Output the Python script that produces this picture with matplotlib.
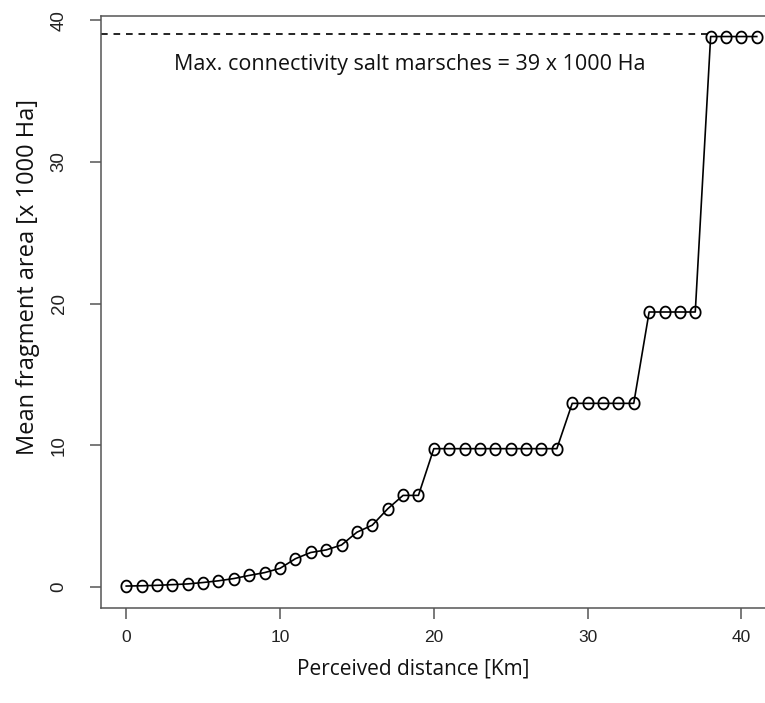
import matplotlib
matplotlib.use("Agg")
import matplotlib.pyplot as plt
import numpy as np
from matplotlib.path import Path

# perceived distance (km) and mean fragment area (x 1000 Ha)
distance = list(range(0, 42))
mean_area = [0.05, 0.07, 0.1, 0.15, 0.2, 0.3, 0.42, 0.58, 0.8, 1.0, 1.3,
             1.98, 2.42, 2.6, 2.95, 3.85, 4.35, 5.5, 6.45, 6.45,
             9.75, 9.75, 9.75, 9.75, 9.75, 9.75, 9.75, 9.75, 9.75,
             12.95, 12.95, 12.95, 12.95, 12.95,
             19.4, 19.4, 19.4, 19.4,
             38.85, 38.85, 38.85, 38.85]
max_conn = 39
max_conn_end = 38
x_ticks = [0, 10, 20, 30, 40]
y_ticks = [0, 10, 20, 30, 40]
note = "Max. connectivity salt marsches = 39 x 1000 Ha"
x_title = "Perceived distance [Km]"
y_title = "Mean fragment area [x 1000 Ha]"

label_font = ["Open Sans", "DejaVu Sans"]
tick_font = ["Liberation Sans", "DejaVu Sans"]

# the source picture is a bit stretched vertically -> slightly oval circles
t = np.linspace(0, 2 * np.pi, 60)
oval = Path(np.column_stack([np.cos(t) / 1.15, np.sin(t)]), closed=True)

fig = plt.figure(figsize=(7.65, 7.03), dpi=100)
ax = fig.add_axes([101 / 765, 1 - 608 / 703, (782 - 101) / 765, (608 - 16) / 703])

xmin, xmax = -1.64, 42.64
ax.set_xlim(xmin, xmax)
ax.set_ylim(-1.5, 40.3)

ax.plot(distance, mean_area, color="black", lw=1.2, marker=oval, ms=8.5,
        mfc="none", mec="black", mew=1.3, zorder=3)
ax.plot([xmin, max_conn_end], [max_conn, max_conn], color="black", lw=1.2,
        dashes=(4, 3.5), zorder=2)

ax.text(18.45, 36.9, note, ha="center", va="center", fontsize=15.5,
        family=label_font, color="#111111")

for s in ax.spines.values():
    s.set_color("#555555")
    s.set_linewidth(1.1)

ax.set_xticks(x_ticks)
ax.set_yticks(y_ticks)
ax.set_xticklabels([str(v) for v in x_ticks], family=tick_font)
ax.set_yticklabels([str(v) for v in y_ticks], family=tick_font,
                   rotation=90, va="center")
ax.tick_params(axis="x", direction="out", length=8, width=1.1, color="#555555",
               labelcolor="#222222", labelsize=12.5, pad=8)
ax.tick_params(axis="y", direction="out", length=8, width=1.1, color="#555555",
               labelcolor="#222222", labelsize=13.5, pad=16)

ax.set_xlabel(x_title, family=label_font, fontsize=15, color="#111111")
ax.xaxis.set_label_coords((413 - 101) / (782 - 101), -0.086)
ax.set_ylabel(y_title, family=label_font, fontsize=17, color="#111111")
ax.yaxis.set_label_coords(-0.09, 0.559)

fig.savefig("out.png", dpi=100)
